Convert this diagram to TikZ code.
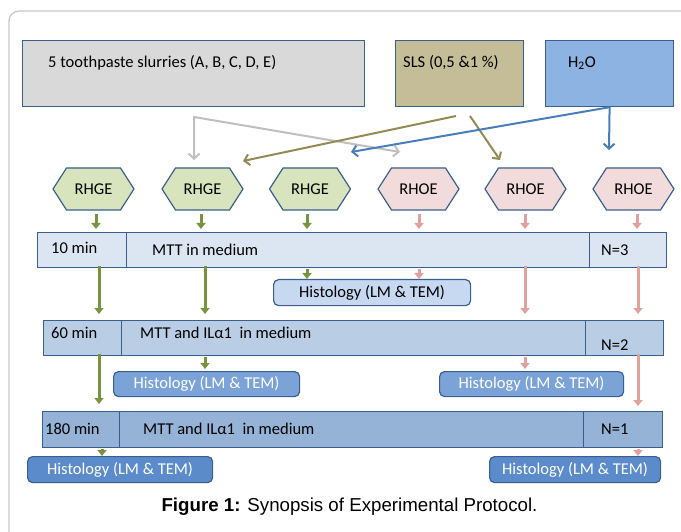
\documentclass[tikz,border=0pt]{standalone}
\usepackage{fontspec}
\setmainfont{Carlito}
\newfontfamily\capfont{Liberation Sans}
\usetikzlibrary{arrows.meta,calc}
\definecolor{frameg}{HTML}{C8C8C8}
\definecolor{bord}{HTML}{3A5F8C}
\definecolor{slurfill}{HTML}{D9D9D9}
\definecolor{slsfill}{HTML}{C4BD97}
\definecolor{h2ofill}{HTML}{8DB3E2}
\definecolor{gfill}{HTML}{D7E4BD}
\definecolor{pfill}{HTML}{F2DCDB}
\definecolor{rowA}{HTML}{DCE6F2}
\definecolor{rowB}{HTML}{B9CDE5}
\definecolor{rowC}{HTML}{95B3D7}
\definecolor{histA}{HTML}{C6D9F1}
\definecolor{histB}{HTML}{7BA3D8}
\definecolor{histC}{HTML}{5B8BCB}
\definecolor{garr}{HTML}{77933C}
\definecolor{parr}{HTML}{E0A09E}
\definecolor{grayarr}{HTML}{BFBFBF}
\definecolor{olivearr}{HTML}{948A54}
\definecolor{bluearr}{HTML}{4A7EBB}
\begin{document}
\begin{tikzpicture}[x=1pt,y=-1pt,
  every node/.style={font=\fontsize{16.5}{19}\selectfont, text=black},
  box/.style={draw=bord, line width=1.2pt, inner sep=0pt, anchor=north west},
  hbox/.style={box, rounded corners=5pt},
  txt/.style={anchor=west, inner sep=0pt},
  hexline/.style={draw=bord, line width=1.2pt},
  garrow/.style={draw=garr, line width=3pt, -{Triangle[length=6pt,width=9pt]}},
  parrow/.style={draw=parr, line width=3pt, -{Triangle[length=6pt,width=9pt]}},
  toparrow/.style={line width=2pt, -{Straight Barb[length=5pt,width=11pt]}}
]
\useasboundingbox (0,0) rectangle (681,532);
\begin{scope}
  \clip (0,0) rectangle (681,532);
  \draw[frameg, line width=1.3pt, rounded corners=10pt] (9,11) rectangle (720,580);
\end{scope}

% top boxes
\node[box, fill=slurfill, minimum width=342pt, minimum height=66pt] (slur) at (22,40) {};
\node[txt] (tslur) at (48,63) {5 toothpaste slurries (A, B, C, D, E)};
\node[box, fill=slsfill, minimum width=128pt, minimum height=66pt] (sls) at (395,40) {};
\node[txt] (tsls) at (403,63) {SLS (0,5 \&1 \%)};
\node[box, fill=h2ofill, minimum width=128pt, minimum height=66pt] (h2o) at (545,40) {};
\node[txt] (th2o) at (568,63) {H\textsubscript{2}O};

% hexagons
\foreach \n/\x/\t/\c in {1/93.5/RHGE/gfill, 2/202.5/RHGE/gfill, 3/310/RHGE/gfill,
                         4/418.5/RHOE/pfill, 5/525.5/RHOE/pfill, 6/633.5/RHOE/pfill}{
  \draw[hexline, fill=\c] (\x-40.5,189) -- (\x-27,168) -- (\x+27,168) -- (\x+40.5,189)
        -- (\x+27,210) -- (\x-27,210) -- cycle;
  \node[inner sep=0pt, minimum width=81pt, minimum height=42pt] (h\n) at (\x,189) {\t};
}

% rows
\node[box, fill=rowA, minimum width=89pt, minimum height=35pt] (r1a) at (37,232) {};
\node[box, fill=rowA, minimum width=463pt, minimum height=35pt] (r1b) at (126,232) {};
\node[box, fill=rowA, minimum width=77pt, minimum height=35pt] (r1c) at (589,232) {};
\node[txt] (t1a) at (51,248) {10 min};
\node[txt] (t1b) at (152,250) {MTT in medium};
\node[txt] (t1c) at (601,250) {N=3};

\node[box, fill=rowB, minimum width=78pt, minimum height=35pt] (r2a) at (43,320) {};
\node[box, fill=rowB, minimum width=464pt, minimum height=35pt] (r2b) at (121,320) {};
\node[box, fill=rowB, minimum width=78pt, minimum height=35pt] (r2c) at (585,320) {};
\node[txt] (t2a) at (51,333) {60 min};
\node[txt] (t2b) at (140,333) {MTT and ILα1\ \ in medium};
\node[txt] (t2c) at (601,345) {N=2};

\node[box, fill=rowC, minimum width=77pt, minimum height=36pt] (r3a) at (42,411) {};
\node[box, fill=rowC, minimum width=464pt, minimum height=36pt] (r3b) at (119,411) {};
\node[box, fill=rowC, minimum width=79pt, minimum height=36pt] (r3c) at (583,411) {};
\node[txt] (t3a) at (45,429) {180 min};
\node[txt] (t3b) at (143,429) {MTT and ILα1\ \ in medium};
\node[txt] (t3c) at (601,429) {N=1};

% histology boxes
\node[hbox, fill=histA, minimum width=197pt, minimum height=26pt] (hi1) at (273,279) {Histology (LM \& TEM)};
\node[hbox, fill=histB, text=white, minimum width=186pt, minimum height=25pt] (hi2) at (113,371) {Histology (LM \& TEM)};
\node[hbox, fill=histB, text=white, minimum width=184pt, minimum height=25pt] (hi3) at (439,371) {Histology (LM \& TEM)};
\node[hbox, fill=histC, text=white, minimum width=185pt, minimum height=26pt] (hi4) at (27,456) {Histology (LM \& TEM)};
\node[hbox, fill=histC, text=white, minimum width=171pt, minimum height=26pt] (hi5) at (489,456) {Histology (LM \& TEM)};

% column coordinates
\foreach \v in {96,99,102,201,205,307,419,525,637,638}{\coordinate (X\v) at (\v,0);}

% hex -> row 1
\draw[garrow] ($(h1.south -| X96)+(0,4)$) -- ($(r1a.north -| X96)+(0,-3)$);
\draw[garrow] ($(h2.south -| X201)+(0,4)$) -- ($(r1b.north -| X201)+(0,-3)$);
\draw[garrow] ($(h3.south -| X307)+(0,4)$) -- ($(r1b.north -| X307)+(0,-3)$);
\draw[parrow] ($(h4.south -| X419)+(0,4)$) -- ($(r1b.north -| X419)+(0,-3)$);
\draw[parrow] ($(h5.south -| X525)+(0,4)$) -- ($(r1b.north -| X525)+(0,-3)$);
\draw[parrow] ($(h6.south -| X637)+(0,4)$) -- ($(r1c.north -| X637)+(0,-3)$);

% row 1 -> row 2
\draw[garrow] ($(r1a.south -| X99)+(0,-2)$) -- ($(r2a.north -| X99)+(0,-6)$);
\draw[garrow] ($(r1b.south -| X205)+(0,-2)$) -- ($(r2b.north -| X205)+(0,-6)$);
\draw[parrow] ($(r1b.south -| X525)+(0,-2)$) -- ($(r2b.north -| X525)+(0,-6)$);
\draw[parrow] ($(r1c.south -| X638)+(0,-2)$) -- ($(r2c.north -| X638)+(0,-6)$);

% row 1 -> histology 1
\draw[garrow] ($(r1b.south -| X307)+(0,1)$) -- (hi1.north -| X307);
\draw[parrow] ($(r1b.south -| X419)+(0,1)$) -- (hi1.north -| X419);

% row 2 -> row 3
\draw[garrow] ($(r2a.south -| X99)+(0,-2)$) -- ($(r3a.north -| X99)+(0,-7)$);
\draw[parrow] ($(r2c.south -| X638)+(0,-2)$) -- ($(r3c.north -| X638)+(0,-5)$);

% row 2 -> histology 2, 3
\draw[garrow] ($(r2b.south -| X205)+(0,1)$) -- ($(hi2.north -| X205)+(0,-2)$);
\draw[parrow] ($(r2b.south -| X525)+(0,1)$) -- ($(hi3.north -| X525)+(0,-2)$);

% row 3 -> histology 4, 5
\draw[garrow] ($(r3a.south -| X102)+(0,1)$) -- (hi4.north -| X102);
\draw[parrow] ($(r3c.south -| X638)+(0,1)$) -- (hi5.north -| X638);

% top connectors
\coordinate (gs) at (194,117);
\coordinate (gt1) at (194,160);
\coordinate (gt2) at (400,152);
\draw[toparrow, grayarr, {Straight Barb[length=5pt,width=11pt]}-{Straight Barb[length=5pt,width=11pt]}] (gt1) -- (gs) -- (gt2);
\coordinate (os1) at (456,116);
\coordinate (ot1) at (243,161);
\coordinate (os2) at (470,116);
\coordinate (ot2) at (500,160);
\draw[toparrow, olivearr] (os1) -- (ot1);
\draw[toparrow, olivearr] (os2) -- (ot2);
\coordinate (bt1) at (351,152);
\coordinate (bt2) at (609,150);
\draw[toparrow, bluearr] (h2o.south) -- (bt1);
\draw[toparrow, bluearr] (h2o.south) -- (bt2);

% caption
\node[font=\capfont\fontsize{18.7}{22}\selectfont] (cap) at (349.5,507) {\textbf{Figure 1:} Synopsis of Experimental Protocol.};
\end{tikzpicture}
\end{document}
